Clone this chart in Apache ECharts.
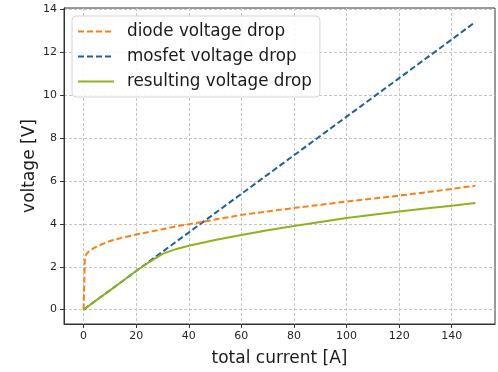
<!DOCTYPE html>
<html>
<head>
<meta charset="utf-8">
<script src="https://cdn.jsdelivr.net/npm/echarts@6/dist/echarts.min.js"></script>
<style>html,body{margin:0;padding:0;background:#fff}#c{width:498px;height:372px}</style>
</head>
<body>
<div id="c"></div>
<script>
const current = [0, 0.5, 1, 2, 4, 6, 8, 10, 15, 20, 25, 30, 35, 40, 50, 60, 70, 80, 90, 100, 110, 120, 130, 140, 149];
const diode =   [0, 2.45, 2.58, 2.72, 2.88, 3.0, 3.1, 3.2, 3.37, 3.5, 3.63, 3.75, 3.88, 3.98, 4.2, 4.42, 4.58, 4.74, 4.89, 5.04, 5.18, 5.32, 5.47, 5.63, 5.78];
const mosfet =  [0, 0.045, 0.09, 0.18, 0.36, 0.54, 0.72, 0.9, 1.35, 1.8, 2.25, 2.7, 3.15, 3.6, 4.5, 5.4, 6.3, 7.2, 8.1, 9.0, 9.9, 10.8, 11.7, 12.6, 13.42];
const result =  [0, 0.045, 0.09, 0.18, 0.36, 0.54, 0.72, 0.9, 1.35, 1.8, 2.22, 2.6, 2.82, 2.98, 3.25, 3.48, 3.7, 3.9, 4.09, 4.27, 4.43, 4.58, 4.72, 4.85, 4.97];
const xTicks = [0, 20, 40, 60, 80, 100, 120, 140];
const yTicks = [0, 2, 4, 6, 8, 10, 12, 14];
const names = ['diode voltage drop', 'mosfet voltage drop', 'resulting voltage drop'];

const pair = (ys) => current.map((x, i) => [x, ys[i]]);
const font = 'DejaVu Sans';
const chart = echarts.init(document.getElementById('c'), null, {renderer: 'canvas'});
const axisCommon = {
  axisLine: {show: true, onZero: false, lineStyle: {color: '#333', width: 1}},
  axisTick: {show: true, inside: false, length: 4, lineStyle: {color: '#333'}},
  splitLine: {show: true, lineStyle: {color: '#c4c4c4', type: [3, 2], width: 1}},
};
chart.setOption({
  animation: false,
  grid: {left: 64, right: 3, top: 8, bottom: 46, show: true, borderColor: '#333', borderWidth: 1, backgroundColor: 'transparent'},
  xAxis: Object.assign({}, axisCommon, {
    type: 'value', min: -7.45, max: 156.45,
    axisTick: Object.assign({}, axisCommon.axisTick, {customValues: xTicks}),
    axisLabel: {customValues: xTicks, color: '#262626', fontFamily: font, fontSize: 11, margin: 7},
    splitLine: Object.assign({}, axisCommon.splitLine, {customValues: xTicks}),
    name: 'total current [A]', nameLocation: 'middle', nameGap: 26,
    nameTextStyle: {color: '#1a1a1a', fontFamily: font, fontSize: 17}
  }),
  yAxis: Object.assign({}, axisCommon, {
    type: 'value', min: -0.67, max: 14.07,
    axisTick: Object.assign({}, axisCommon.axisTick, {customValues: yTicks}),
    axisLabel: {customValues: yTicks, color: '#262626', fontFamily: font, fontSize: 11, margin: 7},
    splitLine: Object.assign({}, axisCommon.splitLine, {customValues: yTicks}),
    name: 'voltage [V]', nameLocation: 'middle', nameGap: 26, nameRotate: 90, nameMoveOverlap: false,
    nameTextStyle: {color: '#1a1a1a', fontFamily: font, fontSize: 17}
  }),
  legend: {
    left: 72, top: 16, orient: 'vertical',
    itemWidth: 36, itemHeight: 12, itemGap: 8,
    padding: [7, 8, 7, 5],
    backgroundColor: 'rgba(255,255,255,0.85)', borderColor: '#d4d4d4', borderWidth: 1, borderRadius: 4,
    itemStyle: {opacity: 0},
    textStyle: {color: '#1a1a1a', fontFamily: font, fontSize: 16.8, padding: [0, 0, 0, 8]},
    data: names
  },
  series: [
    {name: names[0], type: 'line', data: pair(diode), showSymbol: false, symbol: 'none', color: '#ff7f0e', lineStyle: {width: 2, type: [6, 3]}, z: 3},
    {name: names[1], type: 'line', data: pair(mosfet), showSymbol: false, symbol: 'none', color: '#1f5f9c', lineStyle: {width: 2, type: [6, 3]}, z: 2},
    {name: names[2], type: 'line', data: pair(result), showSymbol: false, symbol: 'none', color: '#8fb21e', lineStyle: {width: 2}, z: 4}
  ]
});
</script>
</body>
</html>
